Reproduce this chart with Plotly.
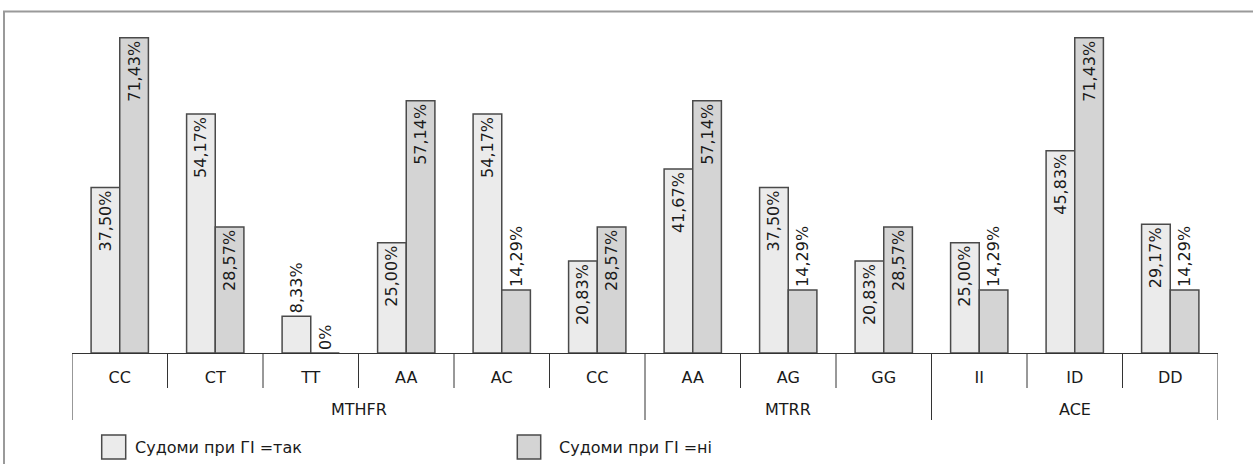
import plotly.graph_objects as go

# ---- data ----
genotypes = ["CC", "CT", "TT", "AA", "AC", "CC", "AA", "AG", "GG", "II", "ID", "DD"]
genes = ["MTHFR", "MTHFR", "MTHFR", "MTHFR", "MTHFR", "MTHFR",
         "MTRR", "MTRR", "MTRR", "ACE", "ACE", "ACE"]
seizures_yes = [37.50, 54.17, 8.33, 25.00, 54.17, 20.83, 41.67, 37.50, 20.83, 25.00, 45.83, 29.17]
seizures_no = [71.43, 28.57, 0.00, 57.14, 14.29, 28.57, 57.14, 14.29, 28.57, 14.29, 71.43, 14.29]
series_names = ["Судоми при ГІ =так", "Судоми при ГІ =ні"]

FONT = "DejaVu Sans"
FS = 16
TXT = "#1a1a1a"
LINE = "#333333"
FILLS = ["#ebebeb", "#d4d4d4"]
EDGE = "#4a4a4a"


def fmt(v):
    if v == 0:
        return "0%"
    return f"{v:.2f}".replace(".", ",") + "%"


xs = list(range(len(genotypes)))

fig = go.Figure()
for name, vals, fill in zip(series_names, [seizures_yes, seizures_no], FILLS):
    fig.add_trace(go.Bar(
        x=xs, y=vals, name=name,
        marker=dict(color=fill, line=dict(color=EDGE, width=1.5)),
        text=[fmt(v) for v in vals],
        textposition=["inside" if v >= 16 else "outside" for v in vals],
        textangle=-90,
        insidetextanchor="end",
        constraintext="none",
        cliponaxis=False,
        textfont=dict(family=FONT, size=FS, color=TXT),
        showlegend=False,
        hoverinfo="skip",
    ))

# geometry helpers (paper coordinates relative to plot area)
L, R, T, B = 72, 35, 22, 111
W, H = 1253, 464
PW, PH = W - L - R, H - T - B


def px_x(px):
    return (px - L) / PW


def px_y(py):
    return (H - B - py) / PH


shapes = []
# outer frame
shapes.append(dict(type="rect", xref="paper", yref="paper",
                   x0=px_x(4), x1=1.3, y0=-0.8, y1=px_y(11.5),
                   line=dict(color="#9a9a9a", width=2), fillcolor="rgba(0,0,0,0)",
                   layer="above"))

# category separators
group_bounds = [0]
for i in range(1, len(genes)):
    if genes[i] != genes[i - 1]:
        group_bounds.append(i)
group_bounds.append(len(genes))
for i in range(len(genotypes) + 1):
    deep = i in group_bounds
    shapes.append(dict(type="line", xref="x", yref="paper",
                       x0=i - 0.5, x1=i - 0.5, y0=0,
                       y1=px_y(420) if deep else px_y(388),
                       line=dict(color=LINE, width=1)))

annotations = []
# gene group labels
for a, b in zip(group_bounds[:-1], group_bounds[1:]):
    annotations.append(dict(xref="x", yref="paper", x=(a + b - 1) / 2, y=px_y(409),
                            text=genes[a], showarrow=False, yanchor="middle",
                            font=dict(family=FONT, size=FS, color=TXT)))

# manual legend
leg = [(101.7, 125.7, 133), (517.3, 540.7, 556.7)]
for (x0, x1, tx), name, fill in zip(leg, series_names, FILLS):
    shapes.append(dict(type="rect", xref="paper", yref="paper",
                       x0=px_x(x0), x1=px_x(x1), y0=px_y(459), y1=px_y(435),
                       line=dict(color=EDGE, width=1.5), fillcolor=fill))
    annotations.append(dict(xref="paper", yref="paper", x=px_x(tx), y=px_y(447),
                            xanchor="left", yanchor="middle", text=name, showarrow=False,
                            font=dict(family=FONT, size=FS, color=TXT)))

fig.update_layout(
    width=W, height=H,
    margin=dict(l=L, r=R, t=T, b=B),
    paper_bgcolor="white", plot_bgcolor="white",
    barmode="group", bargap=0.40, bargroupgap=0,
    font=dict(family=FONT, size=FS, color=TXT),
    shapes=shapes, annotations=annotations,
)
fig.update_xaxes(
    range=[-0.5, len(genotypes) - 0.5],
    tickmode="array", tickvals=xs, ticktext=genotypes,
    ticks="", showgrid=False, zeroline=False,
    showline=True, linecolor=LINE, linewidth=1,
    tickfont=dict(family=FONT, size=FS, color=TXT),
    ticklabelstandoff=10,
    fixedrange=True,
)
fig.update_yaxes(range=[0, 75], visible=False, fixedrange=True)

fig.write_html("out.html", config={"displayModeBar": False})
